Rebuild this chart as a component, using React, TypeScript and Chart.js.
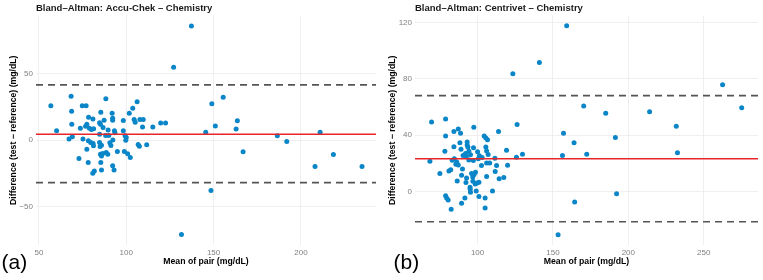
import React, { useEffect, useRef } from 'react';
import { Chart, registerables } from 'chart.js';

Chart.register(...registerables);

const FONT = "'Liberation Sans', Arial, Helvetica, sans-serif";

// ---- Panel (a): Accu-Chek vs Chemistry ----
const accuMean = [
  56.8, 60.1, 68.4, 68.7, 68.8, 74.8, 77.0, 88.3, 85.4, 106.2,
  103.7, 101.7, 91.9, 92.2, 92.2, 78.4, 80.9, 84.7, 85.2, 87.3,
  77.4, 76.7, 73.7, 78.9, 80.0, 81.3, 86.7, 89.6, 93.5, 98.3,
  98.3, 104.5, 105.1, 107.8, 109.7, 109.3, 115.2, 119.7, 122.5, 127.1,
  137.3, 145.5, 149.0, 151.0, 155.5, 162.9, 163.6, 211.0, 93.2, 84.7,
  88.2, 90.0, 99.3, 100.0, 67.2, 69.1, 75.2, 92.3, 99.7, 186.5,
  78.3, 79.6, 81.0, 81.2, 77.4, 72.9, 78.2, 85.4, 85.2, 85.8,
  86.5, 88.5, 89.4, 85.8, 84.7, 85.0, 91.2, 90.6, 94.9, 98.9,
  100.8, 102.3, 92.2, 93.0, 85.8, 81.7, 80.8, 106.8, 107.5, 111.7,
  131.6, 148.5, 166.9, 191.9, 208.1, 218.6, 235.0,
];
const accuDiff = [
  26, 7, 33, 21.8, 12, 26, 26, 31.2, 21, 29,
  24, 20.2, 20.3, 16.5, 15, 17.2, 16, 13.2, 12, 15,
  12, 10.5, 9, 9, 8, 8.6, 9.5, 7.7, 5.5, 14.8,
  7, 15.5, 13.5, 15.5, 15.5, 10, 10, 13, 13, 55,
  86, 6, 27.5, 10.7, 32.3, 8.4, 14.6, 6, 7, 4.5,
  3.5, 3.5, 3.4, 2, 0.8, 2.5, 0.8, 0.2, 0, 3.4,
  -0.5, -1.8, -2.5, -4.3, -6.8, -13.9, -16.9, -16.9, -10.6, -12,
  -10, -9.3, -10.6, -3.8, -1.8, -4.8, -4, -2, -8.6, -8.6,
  -10.3, -13.1, -19.3, -22.5, -22.5, -23.2, -25, -3.3, -4.5, -3.5,
  -71, -37.9, -8.8, -1, -19.9, -10.9, -19.9,
];
const accuBias = 4.5;
const accuUpper = 41.7;
const accuLower = -32;
const accuXTicks = [50, 100, 150, 200];
const accuYTicks = [-50, 0, 50];

// ---- Panel (b): Centrivet vs Chemistry ----
const centMean = [
  159.1, 141.0, 123.4, 262.5, 170.4, 275.2, 185.0, 214.1, 231.8, 157.0,
  191.4, 164.0, 156.3, 172.4, 232.6, 153.4, 164.4, 192.2, 126.2, 113.9,
  125.8, 129.8, 119.2, 119.9, 117.4, 114.3, 111.7, 112.6, 111.5, 109.9,
  105.0, 105.0, 69.5, 78.8, 84.3, 87.2, 88.7, 97.5, 78.8, 104.4,
  105.5, 88.3, 84.3, 93.1, 93.1, 93.6, 92.0, 94.2, 95.3, 92.5,
  90.4, 83.2, 84.6, 85.6, 87.2, 78.3, 68.4, 75.0, 81.0, 82.2,
  89.4, 92.7, 90.0, 97.7, 96.0, 98.6, 100.0, 102.6, 106.0, 107.0,
  106.0, 108.0, 105.5, 106.6, 106.0, 99.7, 100.9, 96.9, 92.3, 86.5,
  98.4, 95.0, 95.1, 95.3, 99.1, 100.9, 78.8, 79.5, 80.5, 82.5,
  89.4, 91.6, 96.8, 86.2, 94.2, 97.2, 100.5, 103.0, 89.0, 97.3,
  101.2,
];
const centDiff = [
  117.7, 91.6, 83.5, 75.7, 60.6, 59.4, 55.6, 56.6, 46.3, 41.3,
  38.4, 34.6, 25.6, 26.5, 27.5, -30.8, -7.4, -1.6, 47.5, 42.5,
  24.3, 26.5, 29.3, 18.6, 10, 9.1, 14.1, 18.4, 23.6, 0.3,
  -4.7, -11.7, 49.4, 51.5, 42.5, 44.4, 41.3, 45.6, 39.4, 39.4,
  38, 34.6, 31.8, 35.2, 33, 31.5, 27, 28.5, 26, 24.8,
  25.5, 22.2, 23.2, 19.3, 18.8, 28.6, 21.5, 12.7, 14.6, 15.4,
  11.5, 9.6, 16, 12, 12.8, 13.6, 28.2, 18.4, 28.8, 26.3,
  20.3, 20.3, 31.5, 36.8, 10.7, 6, 6.6, 7.2, 6.4, 7.4,
  5.3, 3, 1.5, -0.5, 0.3, -3.6, -3, -4.6, -6, -12.6,
  -8.3, -4.7, 10.2, 21, 22.3, 22, 23.2, 24.2, 30, 31,
  25.3,
];
const centBias = 23.2;
const centUpper = 68;
const centLower = -21.5;
const centXTicks = [100, 150, 200, 250];
const centYTicks = [0, 40, 80, 120];

const xTitle = 'Mean of pair (mg/dL)';
const yTitle = 'Difference (test − reference) (mg/dL)';

type PanelProps = {
  title: string;
  means: number[];
  diffs: number[];
  bias: number;
  upper: number;
  lower: number;
  xMin: number;
  xMax: number;
  yMin: number;
  yMax: number;
  xTicks: number[];
  yTicks: number[];
  yAxisWidth: number;
  yTitlePad: number;
  padRight: number;
  width: number;
  left: number;
};

function Panel(p: PanelProps) {
  const ref = useRef<HTMLCanvasElement>(null);
  useEffect(() => {
    if (!ref.current) return;
    const pts = p.means.map((m, i) => ({ x: m, y: p.diffs[i] }));
    const hline = (v: number) => [
      { x: p.xMin, y: v },
      { x: p.xMax, y: v },
    ];
    const fmt = (v: any) => {
      const n = Number(v);
      return n < 0 ? '−' + Math.abs(n) : String(n);
    };
    const tickFont = { family: FONT, size: 8 };
    const titleFont = { family: FONT, size: 8.7, weight: 'bold' as const };
    const chart = new Chart(ref.current, {
      type: 'scatter',
      data: {
        datasets: [
          {
            data: hline(p.bias),
            showLine: true,
            borderColor: '#e8262a',
            borderWidth: 1.5,
            pointRadius: 0,
            order: 0,
          },
          {
            data: hline(p.upper),
            showLine: true,
            borderColor: '#555555',
            borderWidth: 1.7,
            borderDash: [7, 5],
            pointRadius: 0,
            order: 0,
          },
          {
            data: hline(p.lower),
            showLine: true,
            borderColor: '#555555',
            borderWidth: 1.7,
            borderDash: [7, 5],
            pointRadius: 0,
            order: 0,
          },
          {
            data: pts,
            pointRadius: 2.5,
            pointBackgroundColor: '#0a86c8',
            pointBorderWidth: 0,
            order: 1,
          },
        ],
      },
      options: {
        responsive: false,
        animation: false,
        events: [],
        layout: { padding: { left: 0, right: p.padRight, top: 0, bottom: 13 } },
        plugins: {
          legend: { display: false },
          tooltip: { enabled: false },
          title: {
            display: true,
            text: p.title,
            align: 'start',
            fullSize: false,
            color: '#1a1a1a',
            font: { family: FONT, size: 9.5, weight: 'bold' },
            padding: { top: 2.5, bottom: 1.5 },
          },
        },
        scales: {
          x: {
            type: 'linear',
            bounds: 'data',
            min: p.xMin,
            max: p.xMax,
            afterBuildTicks: (s: any) => {
              s.ticks = p.xTicks.map((v) => ({ value: v }));
            },
            ticks: {
              padding: 3,
              color: '#808080',
              font: tickFont,
              maxRotation: 0,
              autoSkip: false,
              callback: fmt,
            },
            grid: { color: '#ebebeb', lineWidth: 0.8, drawTicks: false },
            border: { display: false },
            title: {
              display: true,
              text: xTitle,
              color: '#000000',
              font: titleFont,
              padding: { top: 0, bottom: 0.5 },
            },
            afterFit: (s: any) => {
              s.height = 22;
            },
          },
          y: {
            type: 'linear',
            bounds: 'data',
            min: p.yMin,
            max: p.yMax,
            afterBuildTicks: (s: any) => {
              s.ticks = p.yTicks.map((v) => ({ value: v }));
            },
            ticks: {
              padding: 3,
              color: '#808080',
              font: tickFont,
              autoSkip: false,
              callback: fmt,
            },
            grid: { color: '#ebebeb', lineWidth: 0.8, drawTicks: false },
            border: { display: false },
            title: {
              display: true,
              text: yTitle,
              color: '#000000',
              font: titleFont,
              padding: { top: p.yTitlePad, bottom: 0 },
            },
            afterFit: (s: any) => {
              s.width = p.yAxisWidth;
            },
          },
        },
      },
    } as any);
    return () => chart.destroy();
  }, []);
  return (
    <canvas
      ref={ref}
      width={p.width}
      height={280}
      style={{ position: 'absolute', left: p.left, top: 0, width: p.width, height: 280, display: 'block' }}
    />
  );
}

const tagStyle: React.CSSProperties = {
  position: 'absolute',
  top: 251,
  fontFamily: FONT,
  fontSize: 21,
  lineHeight: '21px',
  color: '#000',
};

export default function App() {
  useEffect(() => {
    document.body.style.margin = '0';
    document.body.style.background = '#ffffff';
  }, []);
  return (
    <div style={{ position: 'relative', width: 763, height: 280, background: '#fff', overflow: 'hidden' }}>
      <Panel
        title="Bland–Altman: Accu-Chek – Chemistry"
        means={accuMean}
        diffs={accuDiff}
        bias={accuBias}
        upper={accuUpper}
        lower={accuLower}
        xMin={48.3}
        xMax={243}
        yMin={-79}
        yMax={94}
        xTicks={accuXTicks}
        yTicks={accuYTicks}
        yAxisWidth={36}
        yTitlePad={8}
        padRight={2}
        width={380}
        left={0}
      />
      <Panel
        title="Bland–Altman: Centrivet – Chemistry"
        means={centMean}
        diffs={centDiff}
        bias={centBias}
        upper={centUpper}
        lower={centLower}
        xMin={58.5}
        xMax={286}
        yMin={-38}
        yMax={125}
        xTicks={centXTicks}
        yTicks={centYTicks}
        yAxisWidth={35}
        yTitlePad={7.3}
        padRight={5}
        width={383}
        left={380}
      />
      <div style={{ ...tagStyle, left: 1.5 }}>(a)</div>
      <div style={{ ...tagStyle, left: 393.5 }}>(b)</div>
    </div>
  );
}
